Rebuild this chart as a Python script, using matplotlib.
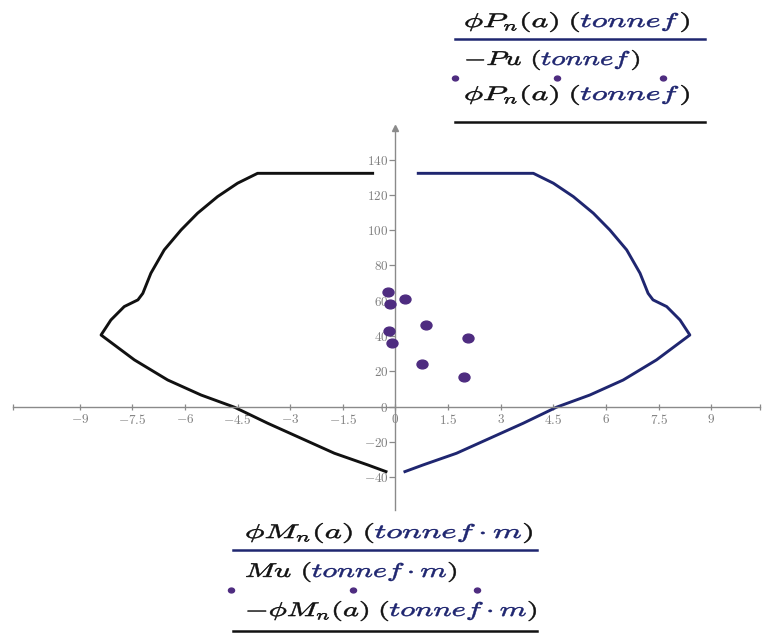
import matplotlib.pyplot as plt
from matplotlib.lines import Line2D
from matplotlib.patches import PathPatch
from matplotlib.textpath import TextPath
from matplotlib.font_manager import FontProperties
from matplotlib.markers import MarkerStyle
from matplotlib.transforms import Affine2D

plt.rcParams['mathtext.fontset'] = 'cm'

# Interaction diagram, positive moment branch (tonnef*m, tonnef)
mn = [0.65, 3.93, 4.50, 5.07, 5.64, 6.11, 6.59, 6.97, 7.20, 7.34,
      7.73, 8.11, 8.39, 7.44, 6.49, 5.54, 4.59, 3.64, 2.69, 1.74, 0.79, 0.27]
pn = [132.2, 132.2, 126.6, 119.0, 109.6, 100.1, 88.8, 75.6, 64.2, 60.5,
      56.7, 49.1, 40.6, 26.5, 15.1, 6.6, -0.3, -9.4, -17.9, -26.4, -33.0, -36.8]
neg_mn = [-v for v in mn]

# Factored load combinations
mu = [-0.20, -0.16, 0.27, -0.18, -0.11, 0.87, 2.07, 0.75, 1.96]
pu = [65.2, 58.2, 61.0, 43.1, 35.9, 46.3, 39.1, 24.2, 17.0]

xticks = [-9, -7.5, -6, -4.5, -3, -1.5, 0, 1.5, 3, 4.5, 6, 7.5, 9]
yticks = [-40, -20, 0, 20, 40, 60, 80, 100, 120, 140]

W, H = 766, 634
BLUE = '#1f2670'
BLACK = '#111111'
PURPLE = '#4e2c80'
GREY = '#8a8a8a'

fig = plt.figure(figsize=(W / 100, H / 100), dpi=100)
ax = fig.add_axes([0, 0, 1, 1])
ax.set_xlim(-11.27, 10.56)
ax.set_ylim(-128.8, 230.4)
ax.patch.set_alpha(0)

ax.plot(mn, pn, color=BLUE, lw=2.1, solid_joinstyle='round')
ax.plot(neg_mn, pn, color=BLACK, lw=2.1, solid_joinstyle='round')
oval = MarkerStyle('o', transform=Affine2D().scale(1.25, 1.0))
ax.scatter(mu, pu, s=40, marker=oval, color=PURPLE, zorder=3)

# axes through the origin
for side in ['top', 'right']:
    ax.spines[side].set_visible(False)
ax.spines['left'].set_position(('data', 0))
ax.spines['bottom'].set_position(('data', 0))
ax.spines['left'].set_bounds(-58.5, 158)
ax.spines['bottom'].set_bounds(-10.9, 10.4)
for side in ['left', 'bottom']:
    ax.spines[side].set_color(GREY)
    ax.spines[side].set_linewidth(1.0)
ax.plot([0], [158], marker='^', ms=5, color=GREY, clip_on=False)

def fmt(v):
    return '$%g$' % v

ax.set_xticks(xticks)
ax.set_xticklabels([fmt(v) for v in xticks])
ax.set_xticks([-10.9, 10.4], minor=True)
ax.set_yticks(yticks)
ax.set_yticklabels([fmt(v) for v in yticks])
ax.tick_params(axis='both', which='both', length=5, width=0.9, color=GREY,
               labelcolor='#7f7f7f', labelsize=9.5)
ax.tick_params(axis='x', which='both', direction='inout', pad=2)
ax.tick_params(axis='y', direction='out', length=4, pad=1)

prop = FontProperties(family='serif')

def width_of(pieces):
    x = 0.0
    for s, _ in pieces:
        x += TextPath((0, 0), s, size=15, prop=prop).get_extents().x1 + 0.6
    return x

def rich(x_px, base_px, pieces, width_px, ky=1.32):
    """Draw coloured math pieces one after another, fitted to width_px."""
    kx = width_px / width_of(pieces)
    x = 0.0
    for s, c in pieces:
        tp = TextPath((0, 0), s, size=15, prop=prop)
        tr = Affine2D().translate(x, 0).scale(kx, ky).translate(x_px, H - base_px)
        fig.add_artist(PathPatch(tp, transform=tr, facecolor=c,
                                 edgecolor=c, lw=0.4))
        x += tp.get_extents().x1 + 0.6

def hline(x0, x1, y_px, color, lw=1.8):
    fig.add_artist(Line2D([x0 / W, x1 / W], [1 - y_px / H] * 2,
                          transform=fig.transFigure, color=color, lw=lw))

def dots(xs, y_px):
    fig.add_artist(Line2D([x / W for x in xs], [1 - y_px / H] * len(xs),
                          transform=fig.transFigure, ls='none', marker=oval,
                          ms=3.5, color=PURPLE))

def label(s):
    return [(s, BLACK), (r'$\ ($', BLACK)]

pn_line = label(r'$\phi P_n(a)$') + [(r'$tonnef$', BLUE), (r'$)$', BLACK)]
pu_line = label(r'$-Pu$') + [(r'$tonnef$', BLUE), (r'$)$', BLACK)]
mn_line = label(r'$\phi M_n(a)$') + [(r'$tonnef\cdot m$', BLUE), (r'$)$', BLACK)]
mu_line = label(r'$Mu$') + [(r'$tonnef\cdot m$', BLUE), (r'$)$', BLACK)]
nmn_line = label(r'$-\phi M_n(a)$') + [(r'$tonnef\cdot m$', BLUE), (r'$)$', BLACK)]

# vertical axis labels
rich(464, 27, pn_line, 226)
hline(455, 705, 39, BLUE)
rich(464, 65, pu_line, 176)
dots([455, 557, 663], 78)
rich(464, 100, pn_line, 226)
hline(455, 705, 122, BLACK)

# horizontal axis labels
rich(245, 538, mn_line, 288)
hline(233, 537, 550, BLUE)
rich(245, 577, mu_line, 212)
dots([231, 353, 477], 590)
rich(245, 616, nmn_line, 292)
hline(233, 537, 631, BLACK)

fig.savefig('out.png', dpi=100)
